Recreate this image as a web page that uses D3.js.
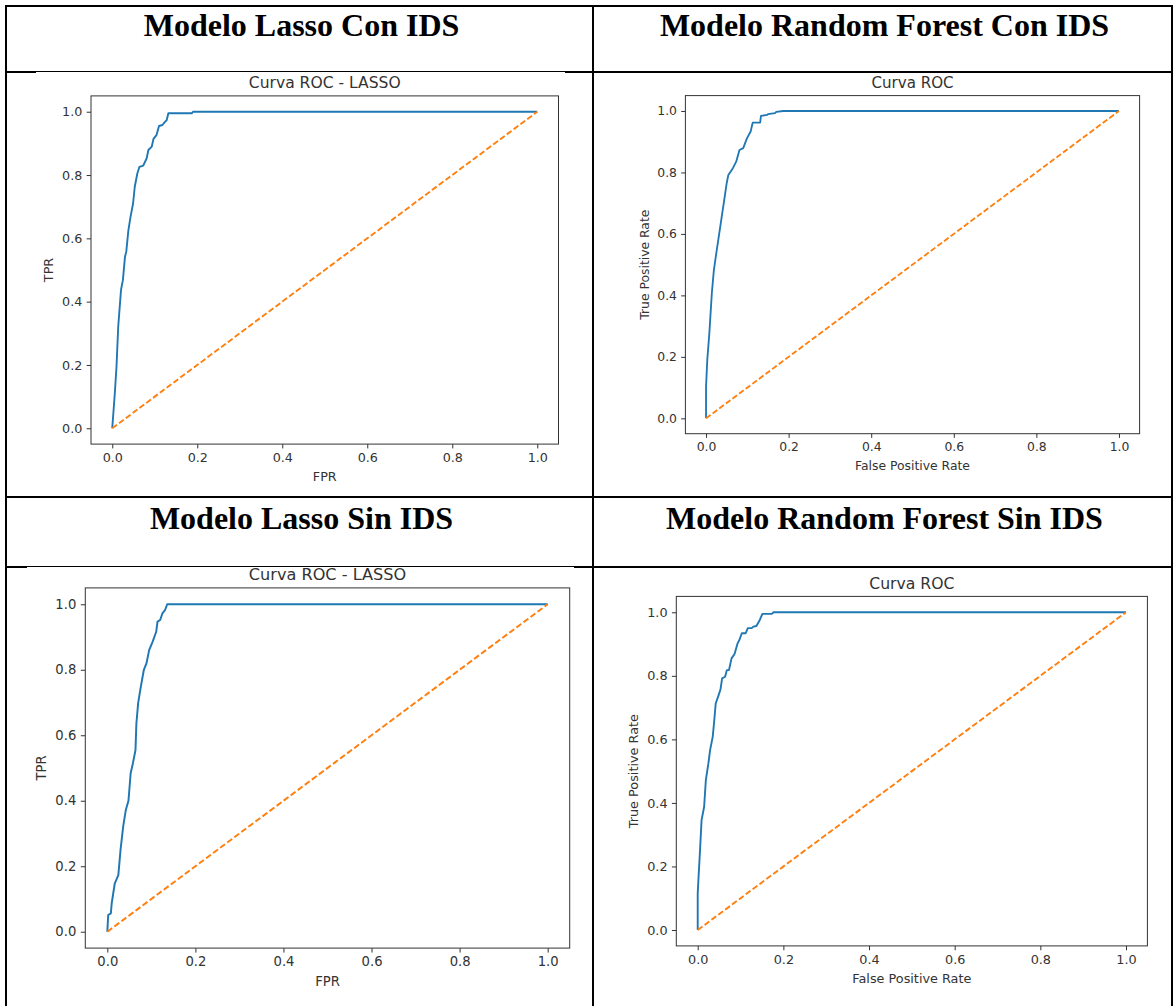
<!DOCTYPE html>
<html>
<head>
<meta charset="utf-8">
<script src="https://cdn.jsdelivr.net/npm/d3@7"></script>
<style>
  body { margin: 0; background: #fff; }
  svg { display: block; }
</style>
</head>
<body>
<svg id="chart" width="1174" height="1006"></svg>
<script>
// ---- data ----
var headers = ["Modelo Lasso Con IDS", "Modelo Random Forest Con IDS", "Modelo Lasso Sin IDS", "Modelo Random Forest Sin IDS"];
var titles = ["Curva ROC - LASSO", "Curva ROC", "Curva ROC - LASSO", "Curva ROC"];
var xLabels = ["FPR", "False Positive Rate", "FPR", "False Positive Rate"];
var yLabels = ["TPR", "True Positive Rate", "TPR", "True Positive Rate"];
var tickValues = [0, 0.2, 0.4, 0.6, 0.8, 1.0];
var diagonal = [[0, 0], [1, 1]];

var rocLassoCon = [[0,0],[0.006,0.11],[0.010,0.195],[0.014,0.32],[0.020,0.426],[0.021,0.44],[0.025,0.468],
  [0.030,0.542],[0.033,0.558],[0.038,0.626],[0.043,0.668],[0.049,0.71],[0.053,0.763],[0.059,0.805],
  [0.064,0.826],[0.073,0.83],[0.081,0.853],[0.085,0.879],[0.093,0.89],[0.097,0.914],[0.104,0.926],
  [0.110,0.955],[0.118,0.958],[0.124,0.968],[0.128,0.973],[0.132,0.995],[0.187,0.995],[0.19,1.0],[1,1]];
var rocForestCon = [[0,0],[0,0.103],[0.003,0.19],[0.008,0.277],[0.014,0.407],[0.019,0.483],[0.026,0.548],
  [0.032,0.602],[0.038,0.656],[0.044,0.71],[0.050,0.765],[0.054,0.792],[0.065,0.814],[0.073,0.835],
  [0.081,0.873],[0.090,0.879],[0.099,0.911],[0.108,0.933],[0.113,0.962],[0.131,0.962],[0.133,0.984],
  [0.148,0.987],[0.150,0.99],[0.167,0.993],[0.170,0.997],[0.187,1.0],[1,1]];
var rocLassoSin = [[0,0],[0.002,0.051],[0.008,0.056],[0.010,0.087],[0.017,0.148],[0.025,0.173],[0.030,0.25],
  [0.036,0.321],[0.042,0.372],[0.048,0.40],[0.053,0.484],[0.058,0.514],[0.064,0.555],[0.066,0.636],
  [0.070,0.698],[0.076,0.748],[0.083,0.80],[0.089,0.82],[0.095,0.86],[0.103,0.886],[0.111,0.916],
  [0.114,0.947],[0.120,0.952],[0.125,0.972],[0.131,0.982],[0.136,1.0],[1,1]];
var rocForestSin = [[0,0],[0,0.115],[0.002,0.168],[0.005,0.241],[0.009,0.346],[0.015,0.388],[0.019,0.472],
  [0.025,0.525],[0.029,0.567],[0.035,0.608],[0.038,0.65],[0.042,0.713],[0.049,0.74],[0.053,0.756],
  [0.057,0.792],[0.064,0.797],[0.068,0.818],[0.073,0.818],[0.079,0.855],[0.086,0.869],[0.093,0.902],
  [0.097,0.912],[0.103,0.934],[0.112,0.934],[0.117,0.95],[0.126,0.95],[0.130,0.955],[0.137,0.957],
  [0.145,0.976],[0.151,0.995],[0.173,0.995],[0.177,1.0],[1,1]];
var curves = [rocLassoCon, rocForestCon, rocLassoSin, rocForestSin];

// ---- layout ----
var colX = [6, 593, 1172];
var rowY = [6, 72, 497, 567];
var headerBase = [30, 32];
// pasted chart images (white backgrounds that sit over part of the table lines)
var images = [
  {x: 36, y: 72, w: 529, h: 423},
  {x: 595, y: 74, w: 576, h: 421},
  {x: 27, y: 567, w: 547, h: 439},
  {x: 595, y: 569, w: 576, h: 437}
];
var frames = [
  {x0: 91, x1: 558.5, y0: 95.9, y1: 444.1},
  {x0: 685.4, x1: 1139.6, y0: 95.6, y1: 433.7},
  {x0: 85.3, x1: 569.7, y0: 587.9, y1: 948.1},
  {x0: 676.3, x1: 1147.4, y0: 596.4, y1: 945.9}
];

var svg = d3.select("#chart");
var textColor = "#333333";

// table grid
var grid = svg.append("g");
rowY.forEach(function (y) {
  grid.append("line").attr("x1", colX[0] - 1).attr("x2", colX[2] + 1).attr("y1", y).attr("y2", y)
    .attr("stroke", "#000").attr("stroke-width", 2);
});
colX.forEach(function (x) {
  grid.append("line").attr("x1", x).attr("x2", x).attr("y1", rowY[0] - 1).attr("y2", 1006)
    .attr("stroke", "#000").attr("stroke-width", 2);
});

// header cells
headers.forEach(function (h, i) {
  var col = i % 2, row = i < 2 ? 0 : 2;
  svg.append("text")
    .attr("x", (colX[col] + colX[col + 1]) / 2 + 2)
    .attr("y", rowY[row] + headerBase[row / 2])
    .attr("text-anchor", "middle")
    .attr("font-family", "Liberation Serif, Times New Roman, serif")
    .attr("font-weight", "bold")
    .attr("font-size", 32)
    .attr("fill", "#000")
    .text(h);
});

images.forEach(function (im) {
  svg.append("rect").attr("x", im.x).attr("y", im.y).attr("width", im.w).attr("height", im.h).attr("fill", "#fff");
});

// ROC panels
frames.forEach(function (f, i) {
  var s = (f.x1 - f.x0) / 496;
  var x = d3.scaleLinear().domain([-0.05, 1.05]).range([f.x0, f.x1]);
  var y = d3.scaleLinear().domain([-0.05, 1.05]).range([f.y1, f.y0]);
  var g = svg.append("g");

  var line = d3.line().x(function (d) { return x(d[0]); }).y(function (d) { return y(d[1]); });

  g.append("path").datum(curves[i]).attr("d", line).attr("fill", "none")
    .attr("stroke", "#1f77b4").attr("stroke-width", 2 * s).attr("stroke-linejoin", "round");
  g.append("path").datum(diagonal).attr("d", line).attr("fill", "none")
    .attr("stroke", "#ff7f0e").attr("stroke-width", 2 * s).attr("stroke-dasharray", (6.2 * s) + "," + (2.8 * s));

  var xAxis = g.append("g").attr("transform", "translate(0," + f.y1 + ")")
    .call(d3.axisBottom(x).tickValues(tickValues).tickFormat(d3.format(".1f"))
      .tickSize(4.6 * s).tickPadding(4.6 * s).tickSizeOuter(0));
  var yAxis = g.append("g").attr("transform", "translate(" + f.x0 + ",0)")
    .call(d3.axisLeft(y).tickValues(tickValues).tickFormat(d3.format(".1f"))
      .tickSize(4.6 * s).tickPadding(4.6 * s).tickSizeOuter(0));
  [xAxis, yAxis].forEach(function (a) {
    a.select(".domain").remove();
    a.selectAll(".tick line").attr("stroke", textColor);
    a.selectAll(".tick text").attr("fill", textColor)
      .attr("font-family", "DejaVu Sans, sans-serif").attr("font-size", 13.5 * s);
  });

  g.append("rect").attr("x", f.x0).attr("y", f.y0).attr("width", f.x1 - f.x0).attr("height", f.y1 - f.y0)
    .attr("fill", "none").attr("stroke", textColor).attr("stroke-width", 1);

  g.append("text").attr("x", (f.x0 + f.x1) / 2).attr("y", f.y0 - 8.3 * s)
    .attr("text-anchor", "middle").attr("font-family", "DejaVu Sans, sans-serif")
    .attr("font-size", 16.5 * s).attr("fill", textColor).text(titles[i]);

  g.append("text").attr("x", (f.x0 + f.x1) / 2).attr("y", f.y1 + 34.5 * s).attr("dy", "0.35em")
    .attr("text-anchor", "middle").attr("font-family", "DejaVu Sans, sans-serif")
    .attr("font-size", 13.5 * s).attr("fill", textColor).text(xLabels[i]);

  var ly = (f.y0 + f.y1) / 2, lx = f.x0 - 45 * s;
  g.append("text").attr("transform", "translate(" + lx + "," + ly + ") rotate(-90)").attr("dy", "0.35em")
    .attr("text-anchor", "middle").attr("font-family", "DejaVu Sans, sans-serif")
    .attr("font-size", 13.5 * s).attr("fill", textColor).text(yLabels[i]);
});
</script>
</body>
</html>
